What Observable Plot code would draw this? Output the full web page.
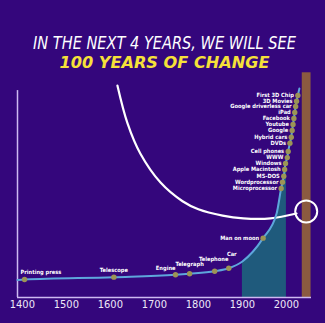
<!DOCTYPE html>
<html><head><meta charset="utf-8">
<script src="https://cdn.jsdelivr.net/npm/d3@7"></script>
<script src="https://cdn.jsdelivr.net/npm/@observablehq/plot@0.6"></script>
<style>
html,body{margin:0;padding:0;background:#34067c;overflow:hidden;}
#chart{width:325px;height:323px;}
</style></head><body><div id="chart"></div>
<script>
// ---- data ----
const titleLines = ["IN THE NEXT 4 YEARS, WE WILL SEE", "100 YEARS OF CHANGE"];
const tickYears = [1400, 1500, 1600, 1700, 1800, 1900, 2000];

const eventNames = ["Printing press","Telescope","Engine","Telegraph","Telephone","Car","Man on moon",
  "Microprocessor","Wordprocessor","MS-DOS","Apple Macintosh","Windows","WWW","Cell phones","DVDs",
  "Hybrid cars","Google","Youtube","Facebook","iPad","Google driverless car","3D Movies","First 3D Chip"];
const eventYears = [1405,1608,1748,1780,1837,1869,1947,
  1988,1991,1994,1996,1998,2002,2004,2008,2011,2013,2015,2017,2019,2021,2023,2026];
const eventValues = [8.5,9.6,10.7,11.2,12.4,13.8,28.0,
  51.4,54.4,57.2,60.4,63.2,66.0,68.9,72.8,75.6,78.8,81.6,84.4,87.3,90.1,92.6,95.3];

// extra points of the curve that carry no event
const curveYears = [1389, 1900, 1977.7, 2000, 2029.5];
const curveValues = [8.25, 17.0, 39.6, 64.6, 98.6];

const shadeYears = [1900, 2000];
const barYears = [2036, 2056];
const barValue = 106;
const axisStartYear = 1389, axisEndYear = 2057, axisTopValue = 97.6;

// white decorative arc and circle
const arcYears = [1616, 1639, 1668, 1714, 1764, 1800, 1855, 1902, 1964, 2023];
const arcValues = [100, 82.1, 67.9, 54.2, 45.4, 41.6, 38.6, 37.3, 37.3, 39.6];
const circleYear = 2045, circleValue = 40.6;

// ---- build tables ----
const events = eventNames.map((name, i) => ({name, year: eventYears[i], value: eventValues[i]}));
const curve = d3.sort([...events, ...curveYears.map((year, i) => ({year, value: curveValues[i]}))], d => d.year);
const shade = curve.filter(d => d.year >= shadeYears[0] && d.year <= shadeYears[1]);
const arc = arcYears.map((year, i) => ({year, value: arcValues[i]}));

const narrow = "'Liberation Sans Narrow', 'DejaVu Sans Condensed', sans-serif";
const labelStyle = {
  "Printing press": {textAnchor: "start", dx: -4, dy: -7},
  "Telescope": {textAnchor: "middle", dx: 0, dy: -7},
  "Engine": {textAnchor: "end", dx: 0, dy: -7},
  "Telegraph": {textAnchor: "middle", dx: 0, dy: -10},
  "Telephone": {textAnchor: "middle", dx: -1, dy: -12},
  "Car": {textAnchor: "middle", dx: 3, dy: -14}
};
const labelMarks = [];
for (const e of events) {
  const s = labelStyle[e.name] || {textAnchor: "end", dx: -4, dy: 0};
  labelMarks.push(Plot.text([e], {x: "year", y: "value", text: "name", fill: "#ffffff",
    fontSize: 5.7, fontWeight: "bold", fontFamily: narrow, ...s}));
}

const chart = Plot.plot({
  width: 325, height: 323,
  marginLeft: 17, marginRight: 14, marginTop: 85, marginBottom: 26,
  style: {background: "#34067c", color: "#fff", fontFamily: narrow},
  x: {domain: [axisStartYear, axisEndYear]},
  y: {domain: [0, 100], axis: null},
  marks: [
    Plot.areaY(shade, {x: "year", y: "value", fill: "#1f5a7c", curve: "monotone-x"}),
    Plot.rectY([{x1: barYears[0], x2: barYears[1], v: barValue}], {x1: "x1", x2: "x2", y: "v", fill: "#8b5a40"}),
    Plot.ruleX([axisStartYear], {y1: 0, y2: axisTopValue, stroke: "#cdb9f2", strokeWidth: 1.5}),
    Plot.ruleY([0], {stroke: "#cdb9f2", strokeWidth: 1.5}),
    Plot.axisX({ticks: tickYears, tickSize: 0, tickPadding: 3, tickFormat: d => String(d),
      fontSize: 11, fill: "#eee8f8", fontFamily: narrow}),
    Plot.line(arc, {x: "year", y: "value", stroke: "#ffffff", strokeWidth: 2.2, curve: "catmull-rom"}),
    Plot.dot([{year: circleYear, value: circleValue}], {x: "year", y: "value", r: 11, stroke: "#ffffff", strokeWidth: 2, fill: "none"}),
    Plot.line(curve, {x: "year", y: "value", stroke: "#5ea6dc", strokeWidth: 2, curve: "monotone-x"}),
    Plot.dot(events, {x: "year", y: "value", r: 2.7, fill: "#9c9455"}),
    ...labelMarks,
    Plot.text([titleLines[0]], {frameAnchor: "top", lineAnchor: "middle", dy: -42, text: d => d, fill: "#ffffff",
      fontSize: 17, fontStyle: "italic", fontFamily: narrow}),
    Plot.text([titleLines[1]], {frameAnchor: "top", lineAnchor: "middle", dy: -23, text: d => d, fill: "#f6e139",
      fontSize: 16, fontStyle: "italic", fontWeight: 900, fontFamily: "'DejaVu Sans', sans-serif"})
  ]
});
document.getElementById("chart").appendChild(chart);
const svg = d3.select(chart);
svg.selectAll("text").filter(function () { return this.textContent === titleLines[0]; })
  .attr("textLength", 263).attr("lengthAdjust", "spacingAndGlyphs");
svg.selectAll("text").filter(function () { return this.textContent === titleLines[1]; })
  .attr("textLength", 210).attr("lengthAdjust", "spacingAndGlyphs");
</script>
</body></html>
